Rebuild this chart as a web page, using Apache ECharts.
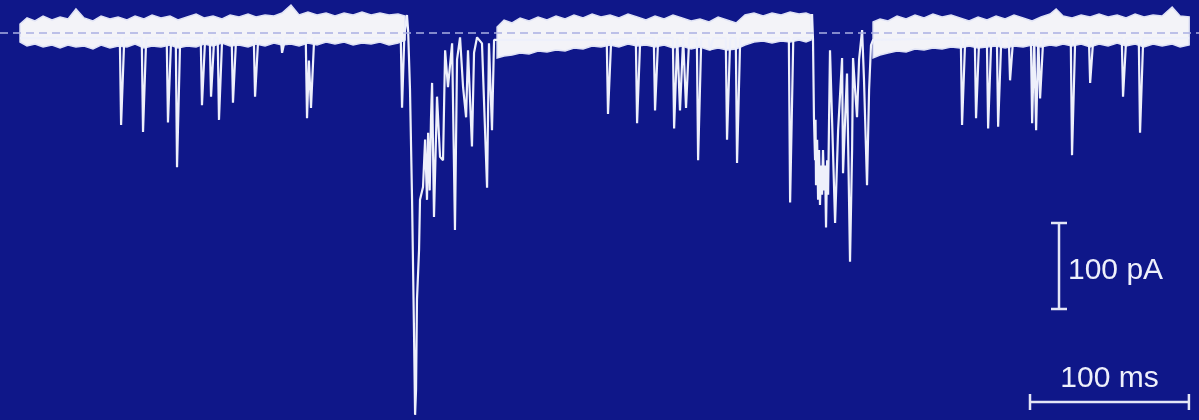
<!DOCTYPE html>
<html>
<head>
<meta charset="utf-8">
<script src="https://cdn.jsdelivr.net/npm/echarts@6/dist/echarts.min.js"></script>
<style>
html,body{margin:0;padding:0;background:#0f1789;}
#c{width:1199px;height:420px;}
</style>
</head>
<body>
<div id="c"></div>
<script>
// ---- DATA (time in ms, current in pA; 0 pA = holding baseline) ----
// Baseline noise envelope: [time, upper, lower]
const noiseA = [
 [0,10.5,-10.4],[4.4,17.5,-15.1],[9.4,14.0,-12.8],[14.5,19.8,-16.3],[20.1,15.1,-13.9],
 [25.2,18.6,-17.4],[30.2,16.3,-13.9],[35.2,27.9,-16.3],[40.3,17.5,-15.1],[45.9,14.0,-18.6],
 [51.0,19.8,-13.9],[56.6,16.3,-17.4],[61.7,18.6,-15.1],[67.3,15.1,-16.3],[72.4,19.8,-12.8],
 [78.0,16.3,-17.4],[83.1,21.0,-15.1],[88.7,17.5,-16.3],[94.4,19.8,-13.9],[99.4,15.1,-17.4],
 [105.1,18.6,-15.1],[110.8,22.1,-16.3],[115.8,17.5,-12.8],[121.5,19.8,-15.1],[127.1,16.3,-11.6],
 [132.2,21.0,-15.1],[137.8,18.6,-13.9],[143.5,22.1,-16.3],[148.5,18.6,-12.8],[154.2,21.0,-15.1],
 [159.8,19.8,-11.6],[164.9,23.3,-13.9],[170.5,32.6,-12.8],[175.6,21.0,-15.1],[181.2,24.4,-11.6],
 [186.9,21.0,-13.9],[192.6,23.3,-10.4],[198.2,19.8,-12.8],[203.9,23.3,-10.4],[209.6,21.0,-13.9],
 [215.2,24.4,-11.6],[220.9,21.0,-12.8],[226.5,23.3,-10.4],[232.2,21.0,-13.9],[237.9,22.1,-11.6],
 [242.3,19.8,-8.1]
];
const noiseB = [
 [300.2,7.0,-29.0],[304.6,15.1,-26.7],[309.6,11.7,-25.6],[314.7,17.5,-23.2],[320.3,14.0,-24.4],
 [326.0,18.6,-20.9],[331.6,15.1,-22.1],[337.3,19.8,-19.7],[343.0,16.3,-20.9],[348.6,21.0,-17.4],
 [354.3,17.5,-18.6],[360.0,22.1,-15.1],[365.6,18.6,-16.3],[371.3,21.0,-13.9],[376.9,17.5,-16.3],
 [382.6,22.1,-12.8],[388.3,18.6,-15.1],[393.9,15.1,-13.9],[399.6,19.8,-16.3],[405.3,16.3,-13.9],
 [410.9,21.0,-17.4],[416.6,17.5,-15.1],[422.3,14.0,-18.6],[427.9,16.3,-16.3],[433.6,12.8,-19.7],
 [439.3,18.6,-17.4],[444.9,15.1,-19.7],[450.6,11.7,-18.6],[456.2,21.0,-13.9],[461.9,23.3,-10.4],
 [467.6,19.8,-9.3],[473.2,23.3,-11.6],[478.9,21.0,-9.3],[484.6,24.4,-10.4],[490.2,22.1,-8.1],
 [494.6,23.3,-10.4],[497.8,21.0,-8.1]
];
const noiseC = [
 [536.8,12.8,-29.0],[541.2,16.3,-25.6],[546.2,14.0,-23.2],[551.9,19.8,-20.9],[557.6,16.3,-22.1],
 [563.2,21.0,-18.6],[568.9,17.5,-19.7],[574.5,22.1,-17.4],[580.2,18.6,-18.6],[585.9,21.0,-16.3],
 [591.5,17.5,-17.4],[597.2,14.0,-15.1],[602.9,18.6,-17.4],[608.5,15.1,-16.3],[614.2,19.8,-15.1],
 [619.9,16.3,-17.4],[625.5,21.0,-15.1],[631.2,17.5,-16.3],[636.9,14.0,-13.9],[642.5,18.6,-16.3],
 [648.2,22.1,-13.9],[652.0,27.9,-15.1],[656.4,19.8,-12.8],[662.0,17.5,-15.1],[667.7,21.0,-12.8],
 [673.4,18.6,-16.3],[679.0,22.1,-12.8],[684.7,18.6,-15.1],[690.4,21.0,-11.6],[696.0,17.5,-15.1],
 [701.7,22.1,-12.8],[707.3,18.6,-16.3],[713.0,21.0,-12.8],[718.7,19.8,-15.1],[725.0,30.2,-12.8],
 [730.0,19.8,-16.3],[735.7,18.6,-13.9]
];
// Synaptic current trace: [time, current]
const traceA = [
 [0,-6],
 [62.8,-6],[63.6,-107],[65.6,-6],
 [76.6,-6],[77.4,-115],[79.4,-6],
 [92.3,-6],[93.1,-104],[95.1,-6],
 [98.0,-6],[98.8,-156],[100.8,-6],
 [113.7,-6],[114.5,-84],[116.5,-6],
 [119.4,-6],[120.2,-74],[122.2,-6],
 [124.4,-6],[125.2,-101],[127.2,-6],
 [133.2,-6],[134.0,-81],[136.0,-6],
 [147.1,-6],[147.9,-74],[149.9,-6],
 [164.1,-6],[164.9,-23],[166.9,-6],
 [179.8,-6],[180.6,-99],[181.8,-32],[183.1,-87],[185.1,-6],
 [239.6,-6],[240.4,-87],[241.8,-6]
];
const burst1 = [
 [242.3,3.5],[243.5,21],[244.2,3.5],[245.4,-66],[246.7,-194],[247.9,-345],[248.6,-444],
 [249.2,-415],[249.8,-310],[251.1,-252],[251.7,-194],[253.6,-179],[254.9,-124],[256.1,-194],
 [256.8,-116],[257.8,-183],[258.6,-101],[259.3,-58],[260.5,-214],[262.4,-74],[264.3,-144],
 [266.2,-148],[267.5,-20],[269.3,-63],[271.9,-12],[273.7,-229],[275.0,-31],[276.9,-5],
 [278.8,-63],[280.7,-98],[281.9,-20],[284.4,-132],[285.7,-23],[287.6,-5],[290.7,-12],
 [293.9,-180],[295.1,-12],[297.0,-113],[298.3,-8],[300.2,-8]
];
const traceB = [
 [369.2,-8],[370.0,-94],[372.0,-8],
 [387.5,-6],[388.3,-105],[390.3,-6],
 [398.8,-6],[399.6,-90],[401.6,-6],
 [410.8,-6],[411.6,-111],[413.6,-6],
 [414.5,-6],[415.3,-90],[417.3,-6],
 [418.3,-6],[419.1,-87],[421.1,-6],
 [425.9,-6],[426.7,-148],[428.7,-6],
 [433.4,-6],[434.2,-20],[436.2,-6],
 [444.1,-6],[444.9,-124],[446.9,-6],
 [450.4,-6],[451.2,-151],[453.2,-6],
 [483.8,-6],[484.6,-197],[486.6,-6]
];
const burst2 = [
 [497.8,-6],[498.4,22],[499.0,-8],[499.6,-98],[500.3,-148],[500.6,-101],[500.9,-177],
 [501.6,-124],[502.2,-194],[502.8,-136],[503.4,-200],[504.1,-154],[504.7,-188],[505.3,-136],
 [506.0,-183],[506.6,-154],[507.2,-226],[507.9,-148],[508.5,-188],[509.1,-101],[509.7,-20],
 [511.0,-101],[512.9,-221],[514.8,-113],[517.3,-29],[517.9,-163],[519.2,-101],[520.4,-47],
 [522.3,-266],[523.6,-136],[524.2,-29],[525.5,-66],[526.7,-98],[528.0,-31],[529.9,3.5],
 [531.1,-55],[533.0,-177],[534.3,-66],[535.5,-14],[536.8,-8]
];
const traceC = [
 [592.0,-6],[592.8,-107],[594.8,-6],
 [600.8,-6],[601.6,-99],[603.6,-6],
 [608.4,-6],[609.2,-111],[611.2,-6],
 [614.7,-6],[615.5,-109],[617.5,-6],
 [622.2,-6],[623.0,-55],[625.0,-6],
 [636.1,-6],[636.9,-105],[638.2,-6],
 [638.8,-6],[639.4,-113],[640.8,-6],
 [641.3,-6],[641.9,-76],[643.9,-6],
 [661.2,-6],[662.0,-142],[664.0,-6],
 [672.6,-6],[673.4,-58],[675.4,-6],
 [693.3,-6],[694.1,-74],[696.1,-6],
 [704.0,-6],[704.8,-116],[706.8,-6],
 [735.7,-6]
];
// Scale bar values and labels
const scaleTime = 100;      // ms
const scaleCurrent = 100;   // pA
const scaleLabels = ['100 pA', '100 ms'];

// ---- CHART ----
const BG = '#0f1789';
const TRACE = '#eef0fb';
const chart = echarts.init(document.getElementById('c'), null, {renderer: 'canvas'});
const noiseSegments = [noiseA, noiseB, noiseC];
const trace = [].concat(traceA, burst1, traceB, burst2, traceC);

chart.setOption({
  backgroundColor: BG,
  animation: false,
  grid: {left: 0, right: 0, top: 0, bottom: 0},
  xAxis: {type: 'value', min: -12.6, max: 741.9, show: false},
  yAxis: {type: 'value', min: -450, max: 38.4, show: false},
  series: [
    {
      type: 'line', z: 1, data: [], silent: true,
      markLine: {
        silent: true, symbol: 'none', label: {show: false},
        lineStyle: {color: '#aab0e2', type: [8, 5], width: 1.5},
        data: [{yAxis: 0}]
      }
    },
    {
      type: 'custom', z: 2, silent: true,
      data: [[0, 0]],
      renderItem: function (params, api) {
        const children = noiseSegments.map(function (seg) {
          const top = seg.map(function (d) { return api.coord([d[0], d[1]]); });
          const bot = seg.slice().reverse().map(function (d) { return api.coord([d[0], d[2]]); });
          return {type: 'polygon', shape: {points: top.concat(bot)},
                  style: {fill: '#f3f3f8', stroke: '#dfe2f5', lineWidth: 1.5}};
        });
        return {type: 'group', children: children};
      }
    },
    {
      type: 'line', z: 3, silent: true,
      data: trace, symbol: 'none',
      lineStyle: {color: TRACE, width: 2.2}
    }
  ]
});

// Scale bars sized through the chart's own scales
const o = chart.convertToPixel({gridIndex: 0}, [0, 0]);
const p = chart.convertToPixel({gridIndex: 0}, [scaleTime, -scaleCurrent]);
const msLen = p[0] - o[0];
const pALen = p[1] - o[1];
const barColor = '#e4e6f6';
const vx = 1059, vy = 223;
const hx = 1030, hy = 402;
const font = '30px "Liberation Sans", Arial, sans-serif';
chart.setOption({
  graphic: [
    {type: 'line', shape: {x1: vx, y1: vy, x2: vx, y2: vy + pALen}, style: {stroke: barColor, lineWidth: 2.5}},
    {type: 'line', shape: {x1: vx - 8, y1: vy, x2: vx + 8, y2: vy}, style: {stroke: barColor, lineWidth: 2.5}},
    {type: 'line', shape: {x1: vx - 8, y1: vy + pALen, x2: vx + 8, y2: vy + pALen}, style: {stroke: barColor, lineWidth: 2.5}},
    {type: 'text', x: vx + 9, y: 271, style: {text: scaleLabels[0], fill: '#eef0fb', font: font, textAlign: 'left', textVerticalAlign: 'middle'}},
    {type: 'line', shape: {x1: hx, y1: hy, x2: hx + msLen, y2: hy}, style: {stroke: barColor, lineWidth: 2.5}},
    {type: 'line', shape: {x1: hx, y1: hy - 8, x2: hx, y2: hy + 8}, style: {stroke: barColor, lineWidth: 2.5}},
    {type: 'line', shape: {x1: hx + msLen, y1: hy - 8, x2: hx + msLen, y2: hy + 8}, style: {stroke: barColor, lineWidth: 2.5}},
    {type: 'text', x: hx + msLen / 2, y: 379, style: {text: scaleLabels[1], fill: '#eef0fb', font: font, textAlign: 'center', textVerticalAlign: 'middle'}}
  ]
});
</script>
</body>
</html>
